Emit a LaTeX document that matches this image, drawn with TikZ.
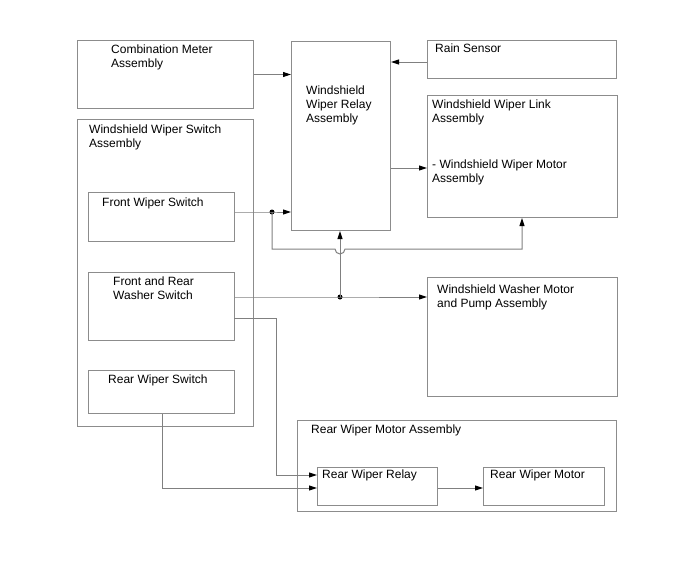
\documentclass[tikz,border=0pt]{standalone}
\usepackage{fontspec}
\setmainfont{Liberation Sans}
\usetikzlibrary{arrows.meta,calc}
\definecolor{linegray}{RGB}{128,128,128}
\definecolor{boxgray}{RGB}{140,140,140}
\tikzset{
  box/.style={draw=boxgray, line width=1pt, rectangle, inner sep=0pt, anchor=north west},
  lbl/.style={anchor=base west, inner sep=0pt, font=\fontsize{12}{14}\selectfont, align=left},
  wire/.style={draw=linegray, line width=1pt},
  arr/.style={wire, -{Triangle[length=8pt,width=5pt,color=black]}},
  jdot/.style={circle, fill=black, inner sep=0pt, minimum size=5pt}
}
\begin{document}
\begin{tikzpicture}[x=1pt,y=-1pt]
\useasboundingbox (0,0) rectangle (688,560);
% boxes
\node[box, minimum width=176pt, minimum height=68pt] (meter) at (77,40) {};
\node[box, minimum width=99pt, minimum height=189pt] (relay) at (291,41) {};
\node[box, minimum width=189pt, minimum height=38pt] (rain) at (427,40) {};
\node[box, minimum width=190pt, minimum height=122pt] (link) at (427,95) {};
\node[box, minimum width=176pt, minimum height=307pt] (swa) at (77,119) {};
\node[box, minimum width=146pt, minimum height=49pt] (fws) at (88,192) {};
\node[box, minimum width=146pt, minimum height=68pt] (wsh) at (88,272) {};
\node[box, minimum width=146pt, minimum height=43pt] (rws) at (88,370) {};
\node[box, minimum width=190pt, minimum height=119pt] (washer) at (427,277) {};
\node[box, minimum width=319pt, minimum height=91pt] (rma) at (297,420) {};
\node[box, minimum width=120pt, minimum height=38pt] (rrelay) at (317,467) {};
\node[box, minimum width=121pt, minimum height=38pt] (rmotor) at (483,467) {};
% labels (base = baseline of the last line)
\node[lbl] (tmeter) at (111,67) {Combination Meter\\Assembly};
\node[lbl] (trelay) at (306,122) {Windshield\\Wiper Relay\\Assembly};
\node[lbl] (train) at (435,52) {Rain Sensor};
\node[lbl] (tlink) at (432,122) {Windshield Wiper Link\\Assembly};
\node[lbl] (tlink2) at (432,182) {- Windshield Wiper Motor\\Assembly};
\node[lbl] (tswa) at (89,147) {Windshield Wiper Switch\\Assembly};
\node[lbl] (tfws) at (102,206) {Front Wiper Switch};
\node[lbl] (twsh) at (113,299) {Front and Rear\\Washer Switch};
\node[lbl] (trws) at (108,383) {Rear Wiper Switch};
\node[lbl] (twasher) at (437,307) {Windshield Washer Motor\\and Pump Assembly};
\node[lbl] (trma) at (311,433) {Rear Wiper Motor Assembly};
\node[lbl] (trrelay) at (322,478) {Rear Wiper Relay};
\node[lbl] (trmotor) at (490,478) {Rear Wiper Motor};
% junctions and ports
\node[jdot] (j1) at (272,212) {};
\node[jdot] (j2) at (340,297) {};
\coordinate (hop) at (340,249);
\coordinate (rainp) at ($(rain.north west)+(0,22)$);
\coordinate (relayp) at ($(relay.north east)+(0,127)$);
\coordinate (wshp) at (234,318);
\coordinate (rrA) at (276,475);
\coordinate (rrB) at (162,488);
\coordinate (lk) at (522,249);
% connectors
\draw[arr] (meter.east) -- (meter.east -| relay.west);
\draw[arr] (rainp) -- (rainp -| relay.east);
\draw[arr] (relayp) -- (relayp -| link.west);
\draw[arr] (fws.east |- j1) -- (j1.center) -- (j1 -| relay.west);
\draw[arr] (j1.center) -- (j1 |- hop) -- ($(hop)+(-5,0)$) arc[start angle=180, end angle=0, radius=5] -- (lk) -- (lk |- link.south);
\draw[arr] (wsh.east |- j2) -- (j2.center) -- (j2 -| washer.west);
\draw[arr] (j2.center) -- (j2 |- relay.south);
\draw[arr] (wshp) -- (wshp -| rrA) -- (rrA) -- (rrA -| rrelay.west);
\draw[arr] (rrB |- rws.south) -- (rrB) -- (rrB -| rrelay.west);
\draw[arr] (rrelay.east |- rrB) -- (rmotor.west |- rrB);
\end{tikzpicture}
\end{document}
